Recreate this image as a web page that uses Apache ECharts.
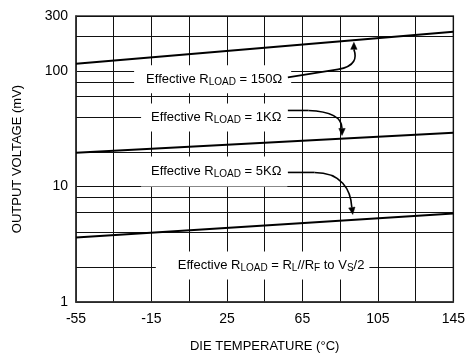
<!DOCTYPE html>
<html>
<head>
<meta charset="utf-8">
<script src="https://cdn.jsdelivr.net/npm/echarts@6/dist/echarts.min.js"></script>
<style>
html,body{margin:0;padding:0;background:#fff;}
#c{width:468px;height:359px;}
</style>
</head>
<body>
<div id="c"></div>
<script>
// ---- data ----
const tempTicks = ['-55','-35','-15','5','25','45','65','85','105','125','145'];
const tempMin = -55, tempMax = 145;
const voltMin = 1, voltMax = 300;
const voltGrid = [2, 4, 6, 8, 20, 40, 60, 80, 200];
const temps = [-55, 145];
const v150 = [116, 219];
const v1k = [19.6, 29.3];
const v5k = [3.62, 5.85];

const FONT = '"Liberation Sans", Arial, Helvetica, sans-serif';
const chart = echarts.init(document.getElementById('c'), null, {renderer: 'canvas'});

function pts(xs, ys) { return xs.map((x, i) => [x, ys[i]]); }
function lineSeries(name, ys, extra) {
  return Object.assign({
    name: name, type: 'line', xAxisIndex: 1, yAxisIndex: 0,
    data: pts(temps, ys), symbol: 'none',
    lineStyle: {color: '#000', width: 2}, z: 5
  }, extra || {});
}

chart.setOption({
  animation: false,
  backgroundColor: '#fff',
  grid: {left: 76, right: 9, top: 16, bottom: 57, show: true, borderColor: '#333', borderWidth: 1.5, backgroundColor: 'transparent'},
  xAxis: [{
    type: 'category', data: tempTicks, boundaryGap: false,
    axisLine: {show: true, onZero: false, lineStyle: {color: '#333', width: 1.5}},
    axisTick: {show: false},
    axisLabel: {interval: 1, color: '#000', fontSize: 14, fontFamily: FONT, margin: 10},
    splitLine: {show: true, interval: 0, lineStyle: {color: '#111', width: 1}},
    name: 'DIE TEMPERATURE (°C)', nameLocation: 'middle', nameGap: 38,
    nameTextStyle: {color: '#000', fontSize: 13, fontFamily: FONT}
  }, {
    type: 'value', min: tempMin, max: tempMax, show: false,
    axisLine: {show: false, onZero: false}, splitLine: {show: false}
  }],
  yAxis: [{
    type: 'log', logBase: 10, min: voltMin, max: voltMax,
    axisLine: {show: true, onZero: false, lineStyle: {color: '#333', width: 1.5}},
    axisTick: {show: false},
    axisLabel: {color: '#000', fontSize: 14, fontFamily: FONT, margin: 8},
    splitLine: {show: true, lineStyle: {color: '#111', width: 1}},
    minorSplitLine: {show: false},
    name: 'OUTPUT VOLTAGE (mV)', nameLocation: 'middle', nameGap: 52,
    nameTextStyle: {color: '#000', fontSize: 13, fontFamily: FONT}
  }],
  series: [
    lineSeries('150Ω', v150, {
      markLine: {
        silent: true, symbol: 'none', animation: false,
        label: {show: false},
        lineStyle: {color: '#111', width: 1, type: 'solid'},
        data: voltGrid.map(v => ({yAxis: v}))
      }
    }),
    lineSeries('1KΩ', v1k),
    lineSeries('5KΩ', v5k)
  ]
});

// ---- annotations (anchored in data coordinates) ----
function P(t, v) { return chart.convertToPixel({xAxisIndex: 1, yAxisIndex: 0}, [t, v]); }
const rich = {
  a: {fontSize: 13, fontFamily: FONT, lineHeight: 16, verticalAlign: 'middle', fill: '#000', color: '#000'},
  s: {fontSize: 10, fontFamily: FONT, lineHeight: 10, verticalAlign: 'bottom', fill: '#000', color: '#000'}
};
function label(t, v, text, padding) {
  const p = P(t, v);
  return {
    type: 'text', x: p[0], y: p[1], z: 50, silent: true,
    style: {text: text, rich: rich, align: 'left', verticalAlign: 'middle',
      backgroundColor: '#fff', padding: padding, fill: '#000', fontSize: 13, fontFamily: FONT}
  };
}
function leader(a, b, c1, c2, d, tip) {
  const pa = P(a[0], a[1]), pb = P(b[0], b[1]), q1 = P(c1[0], c1[1]), q2 = P(c2[0], c2[1]), pd = P(d[0], d[1]), pt = P(tip[0], tip[1]);
  const dx = pt[0] - pd[0], dy = pt[1] - pd[1];
  const L = Math.sqrt(dx * dx + dy * dy) || 1;
  const ux = dx / L, uy = dy / L, hl = 7, hw = 3.2;
  const bx = pt[0] - ux * hl, by = pt[1] - uy * hl;
  const style = {stroke: '#000', lineWidth: 1.6, fill: null};
  return [
    {type: 'polyline', z: 60, silent: true, shape: {points: [pa, pb]}, style: style},
    {type: 'bezierCurve', z: 60, silent: true, shape: {x1: pb[0], y1: pb[1], cpx1: q1[0], cpy1: q1[1], cpx2: q2[0], cpy2: q2[1], x2: pd[0], y2: pd[1]}, style: style},
    {type: 'polygon', z: 60, silent: true, shape: {points: [pt, [bx - uy * hw, by + ux * hw], [bx + uy * hw, by - ux * hw]]}, style: {fill: '#000', stroke: '#000', lineWidth: 0.5}}
  ];
}

const g = [];
g.push(label(-24.2, 84.8, '{a|Effective R}{s|LOAD}{a| = 150Ω}', [6, 9, 6, 12]));
g.push(label(-20.5, 39.7, '{a|Effective R}{s|LOAD}{a| = 1KΩ}', [6, 6, 6, 10]));
g.push(label(-20.5, 13.5, '{a|Effective R}{s|LOAD}{a| = 5KΩ}', [7, 6, 7, 10]));
g.push(label(-12.7, 2.07, '{a|Effective R}{s|LOAD}{a| = R}{s|L}{a|//R}{s|F}{a| to V}{s|S}{a|/2}', [6, 5, 6, 22]));

g.push.apply(g, leader([57.3, 88.2], [83.9, 103.5], [93.3, 109.8], [93.8, 131.4], [92.3, 154.2], [92.3, 177.3]));
g.push.apply(g, leader([57.3, 45.6], [68.2, 45.6], [80.2, 44.8], [86.0, 39.7], [86.0, 31.9], [86.0, 27.7]));
g.push.apply(g, leader([57.3, 13.25], [71.4, 13.25], [85.5, 13.25], [90.7, 9.44], [91.2, 6.59], [91.7, 5.73]));

chart.setOption({graphic: {elements: g}});
</script>
</body>
</html>
